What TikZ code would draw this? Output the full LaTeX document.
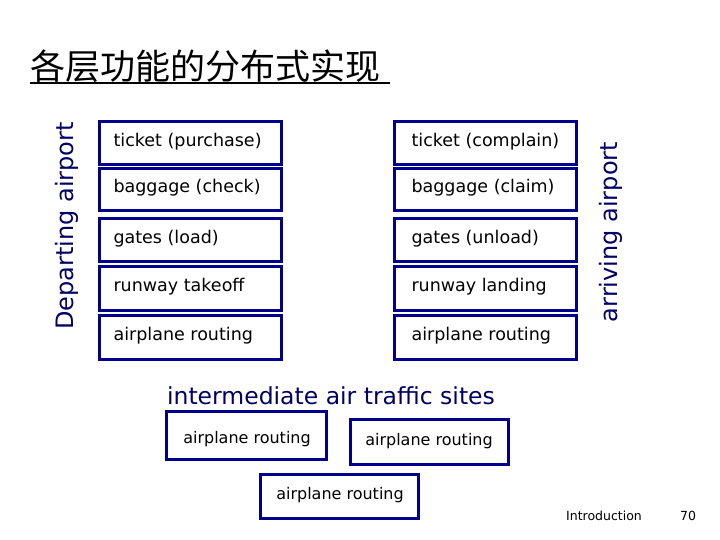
\documentclass[tikz,border=0pt]{standalone}
\usepackage{fontspec}
\setmainfont{DejaVu Sans}
\newfontfamily\cjk{Noto Sans CJK SC}
\begin{document}
\begin{tikzpicture}[x=1pt,y=-1pt,
  lay/.style={draw=blue!55!black,line width=2.6pt,anchor=north west,inner sep=0pt},
  lbl/.style={anchor=west,font=\fontsize{17.5}{20}\selectfont},
  side/.style={rotate=90,font=\fontsize{24}{26}\selectfont,text=blue!40!black}]
\useasboundingbox (0,0) rectangle (720,540);
\fill[white] (0,0) rectangle (720,540);
\node[anchor=west,font=\cjk\fontsize{35}{38}\selectfont,inner sep=0pt] (t) at (30,66) {各层功能的分布式实现};
\draw[line width=1.3pt] (30,83) -- (390,83);
\foreach \n/\y/\h/\l/\r in {a/120/43/ticket (purchase)/ticket (complain), b/167/42/baggage (check)/baggage (claim), c/217/43/gates (load)/gates (unload), d/265/44/runway takeoff/runway landing, e/314/44/airplane routing/airplane routing}{
  \node[lay,minimum width=182pt,minimum height=\h pt] (L\n) at (98,\y) {};
  \node[lbl] at (110,\y+\h/2) {\l};
  \node[lay,minimum width=182pt,minimum height=\h pt] (R\n) at (393,\y) {};
  \node[lbl] at (408,\y+\h/2) {\r};
}
\node[side] (dep) at (67,226) {Departing airport};
\node[side] (arr) at (611,232) {arriving airport};
\node[font=\fontsize{23.5}{26}\selectfont,text=blue!40!black] (im) at (331,396) {intermediate air traffic sites};
\node[lay,minimum width=160pt,minimum height=48pt] (m1) at (165,410) {};
\node[font=\fontsize{16}{18}\selectfont] at (247,439) {airplane routing};
\node[lay,minimum width=158pt,minimum height=45pt] (m2) at (349,418) {};
\node[font=\fontsize{16}{18}\selectfont] at (429,441) {airplane routing};
\node[lay,minimum width=158pt,minimum height=44pt] (m3) at (259,473) {};
\node[font=\fontsize{16}{18}\selectfont] at (340,495) {airplane routing};
\node[font=\fontsize{12.5}{14}\selectfont] (intro) at (604,516) {Introduction};
\node[font=\fontsize{12.5}{14}\selectfont] (pg) at (688,516) {70};
\end{tikzpicture}
\end{document}
